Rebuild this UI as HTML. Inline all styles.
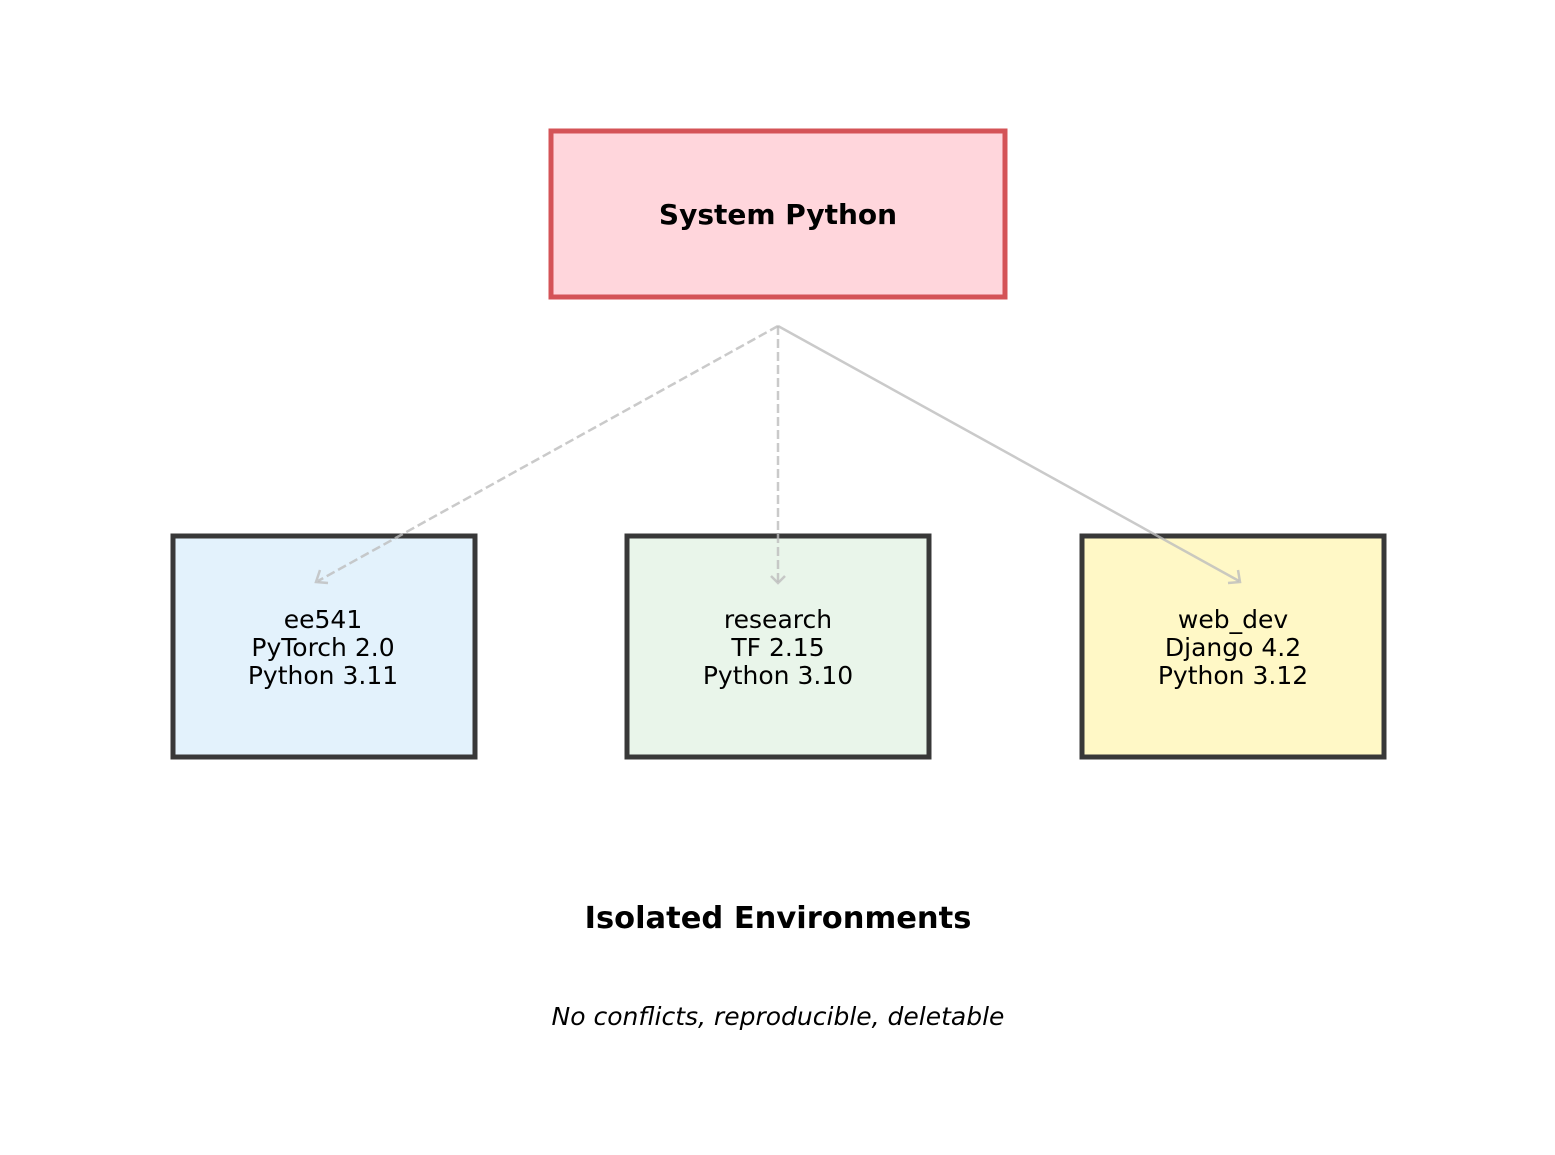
<!DOCTYPE html>
<html><head><meta charset="utf-8"><style>
html,body{margin:0;padding:0;background:#fff;}
svg{display:block;}
text{font-family:"DejaVu Sans","Liberation Sans",sans-serif;}
</style></head><body>
<svg width="1555" height="1155" viewBox="0 0 1555 1155" xmlns="http://www.w3.org/2000/svg">
<rect x="551" y="131" width="454" height="166" fill="#ffd6dc" stroke="#d45357" stroke-width="5"/>
<text x="778" y="224" font-size="28" font-weight="bold" text-anchor="middle">System Python</text>

<rect x="173" y="536" width="302" height="221" fill="#e3f2fc" stroke="#383838" stroke-width="5"/>
<rect x="627" y="536" width="302" height="221" fill="#e9f5ea" stroke="#383838" stroke-width="5"/>
<rect x="1082" y="536" width="302" height="221" fill="#fff8c6" stroke="#383838" stroke-width="5"/>

<g font-size="25" text-anchor="middle" fill="#000">
<text x="323" y="628">ee541</text><text x="323" y="656">PyTorch 2.0</text><text x="323" y="684">Python 3.11</text>
<text x="778" y="628">research</text><text x="778" y="656">TF 2.15</text><text x="778" y="684">Python 3.10</text>
<text x="1233" y="628">web_dev</text><text x="1233" y="656">Django 4.2</text><text x="1233" y="684">Python 3.12</text>
</g>

<g stroke="#bdbdbd" stroke-opacity="0.8" stroke-width="2.5" fill="none">
<line x1="778" y1="326" x2="318" y2="581" stroke-dasharray="9,4"/>
<line x1="778" y1="326" x2="778" y2="582" stroke-dasharray="9,4"/>
<line x1="778" y1="326" x2="1239" y2="581"/>
<path d="M320,570 L316,582 L328,583"/>
<path d="M771,576 L778,583 L785,576"/>
<path d="M1228,583 L1240,582 L1238,570"/>
</g>

<text x="778" y="928" font-size="30.5" font-weight="bold" text-anchor="middle">Isolated Environments</text>
<text x="778" y="1025" font-size="25" font-style="italic" text-anchor="middle">No conflicts, reproducible, deletable</text>
</svg>
</body></html>
